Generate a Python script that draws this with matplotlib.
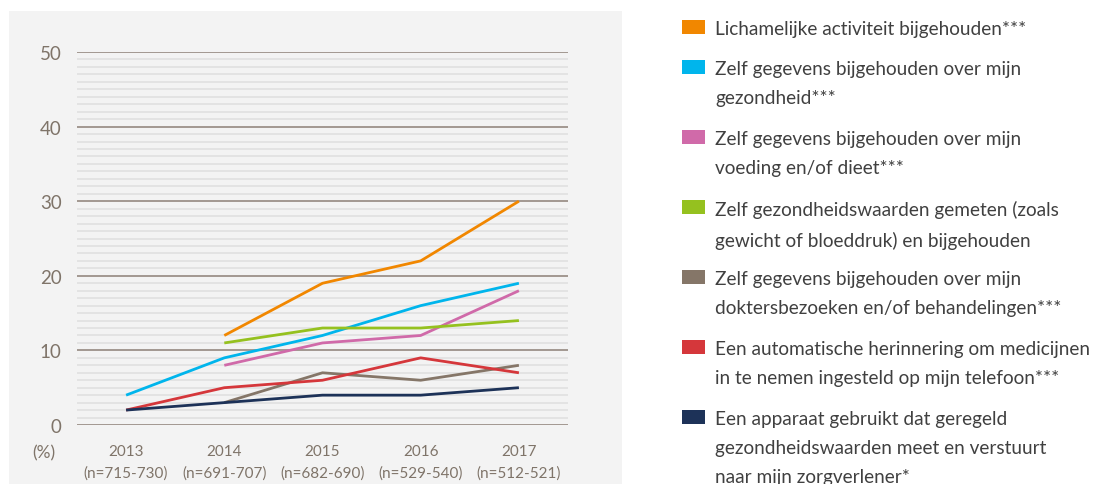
import numpy as np
import matplotlib.pyplot as plt
from matplotlib.patches import Rectangle

plt.rcParams['font.family'] = ['Lato', 'DejaVu Sans']

years = ["2013", "2014", "2015", "2016", "2017"]
sample_sizes = ["(n=715-730)", "(n=691-707)", "(n=682-690)", "(n=529-540)", "(n=512-521)"]

activiteit = [np.nan, 12, 19, 22, 30]
gezondheid = [4, 9, 12, 16, 19]
voeding = [np.nan, 8, 11, 12, 18]
gemeten = [np.nan, 11, 13, 13, 14]
dokter = [np.nan, 3, 7, 6, 8]
herinnering = [2, 5, 6, 9, 7]
apparaat = [2, 3, 4, 4, 5]

series = [activiteit, gezondheid, voeding, gemeten, dokter, herinnering, apparaat]
labels = [
    "Lichamelijke activiteit bijgehouden***",
    "Zelf gegevens bijgehouden over mijn\ngezondheid***",
    "Zelf gegevens bijgehouden over mijn\nvoeding en/of dieet***",
    "Zelf gezondheidswaarden gemeten (zoals\ngewicht of bloeddruk) en bijgehouden",
    "Zelf gegevens bijgehouden over mijn\ndoktersbezoeken en/of behandelingen***",
    "Een automatische herinnering om medicijnen\nin te nemen ingesteld op mijn telefoon***",
    "Een apparaat gebruikt dat geregeld\ngezondheidswaarden meet en verstuurt\nnaar mijn zorgverlener*",
]
colors = ["#f18700", "#00b5ec", "#d06aa9", "#95c11f", "#857668", "#d5373b", "#1d3258"]

W, H = 1093, 485
fig = plt.figure(figsize=(W / 100, H / 100), dpi=100)

# grey panel behind the chart
fig.patches.append(Rectangle((9 / W, 0), (622 - 9) / W, (485 - 12) / H,
                             transform=fig.transFigure, facecolor="#f3f3f3",
                             edgecolor="none", zorder=-1))

ax = fig.add_axes([77 / W, (H - 426) / H, (568 - 77) / W, (426 - 53) / H])
ax.set_zorder(2)
ax.set_facecolor("none")
for s in ax.spines.values():
    s.set_visible(False)

x = np.arange(len(years))
for minor in range(0, 51):
    if minor % 10:
        ax.axhline(minor, color="#e0e0e0", lw=1.2, zorder=1)
for major in range(0, 51, 10):
    ax.axhline(major, color="#8c8076", lw=1.1, zorder=1)

for vals, c in zip(series, colors):
    ax.plot(x, vals, color=c, lw=2.0, zorder=3, solid_capstyle="butt")

ax.set_xlim(-0.5, 4.5)
ax.set_ylim(0, 50)
ax.set_yticks(range(0, 51, 10))
ax.set_xticks(x)
ax.set_xticklabels([y + "\n" + n for y, n in zip(years, sample_sizes)],
                   linespacing=1.6)
ax.tick_params(axis="y", length=0, pad=11, labelsize=13.5, labelcolor="#7f7469")
ax.tick_params(axis="x", length=0, pad=14, labelsize=11, labelcolor="#7f7469")

fig.text(44 / W, 1 - 453 / H, "(%)", fontsize=12.5, color="#7f7469",
         ha="center", va="center")

# legend
sq_y = [28, 68, 138, 208, 278, 348, 418]
for yc, c, lab in zip(sq_y, colors, labels):
    fig.patches.append(Rectangle((682 / W, 1 - (yc + 7) / H), 23 / W, 14 / H,
                                 transform=fig.transFigure, facecolor=c,
                                 edgecolor="none"))
    fig.text(715 / W, 1 - (yc - 7) / H, lab, fontsize=13.7, color="#404040",
             ha="left", va="top", linespacing=1.85)

fig.savefig("out.png", dpi=100)
